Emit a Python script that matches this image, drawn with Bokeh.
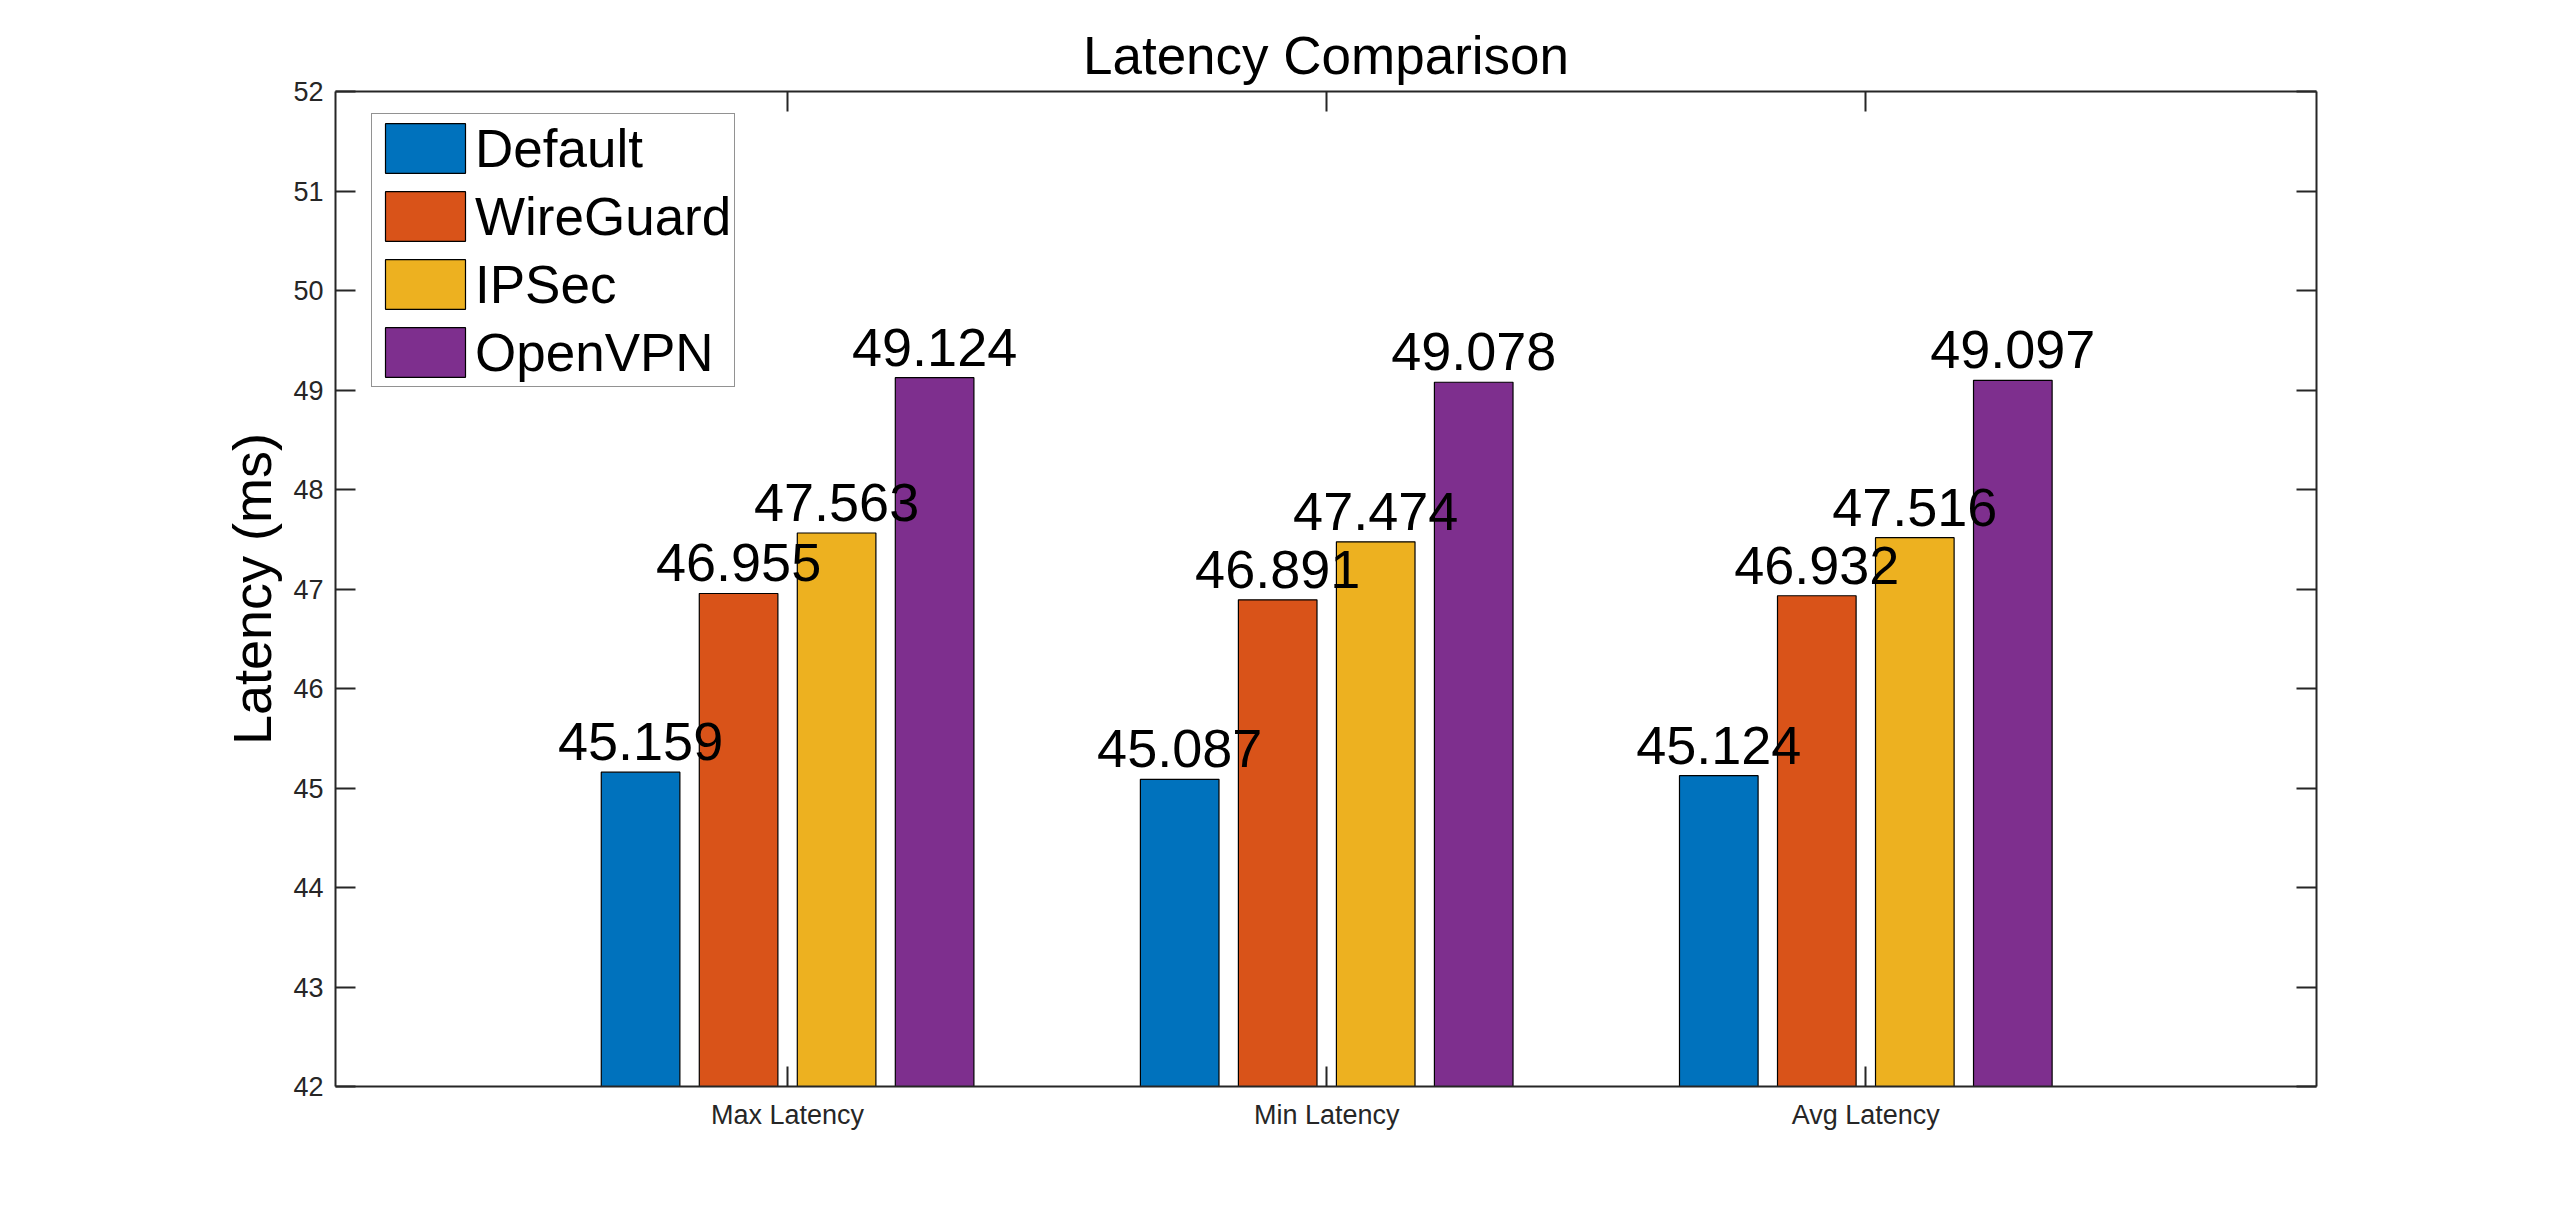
from bokeh.plotting import figure
from bokeh.models import ColumnDataSource, Range1d, LinearAxis, FixedTicker
from bokeh.transform import dodge
from bokeh.core.properties import value
from bokeh.embed import file_html
from bokeh.resources import INLINE

# ---------------- data ----------------
categories = ["Max Latency", "Min Latency", "Avg Latency"]
series_names = ["Default", "WireGuard", "IPSec", "OpenVPN"]
default_vals = [45.159, 45.087, 45.124]
wireguard_vals = [46.955, 46.891, 46.932]
ipsec_vals = [47.563, 47.474, 47.516]
openvpn_vals = [49.124, 49.078, 49.097]
y_ticks = [42, 43, 44, 45, 46, 47, 48, 49, 50, 51, 52]

# ---------------- style ----------------
colors = ["#0072BD", "#D95319", "#EDB120", "#7E2F8E"]
offsets = [-0.2727, -0.0909, 0.0909, 0.2727]
bar_width = 0.1458
FONT = "Liberation Sans"
AX = "#262626"

positions = list(range(1, len(categories) + 1))
series_vals = [default_vals, wireguard_vals, ipsec_vals, openvpn_vals]
cols = ["s0", "s1", "s2", "s3"]

data = dict(x=positions, cat=categories)
for c, vals in zip(cols, series_vals):
    data[c] = vals
    data[c + "_lbl"] = ["%.3f" % v for v in vals]
source = ColumnDataSource(data)

W, H = 2544, 1203
p = figure(width=W, height=H, output_backend="svg", toolbar_location=None,
           x_range=Range1d(0.1614, 3.836), y_range=Range1d(42, 52),
           min_border_left=335, min_border_right=228,
           min_border_top=91, min_border_bottom=117,
           title="Latency Comparison")
p.background_fill_color = "white"
p.border_fill_color = "white"
p.outline_line_color = None
p.xgrid.visible = False
p.ygrid.visible = False

for i, (c, name) in enumerate(zip(cols, series_names)):
    p.vbar(x=dodge("x", offsets[i]), top=c, bottom=0, width=bar_width,
           source=source, fill_color=colors[i], line_color="#000000",
           line_width=1.2, legend_label=name)

for i, c in enumerate(cols):
    p.text(x=dodge("x", offsets[i]), y=c, text=c + "_lbl", source=source,
           text_align="center", text_baseline="bottom", y_offset=-12,
           text_font=value(FONT), text_font_size="54px", text_color="#000000")

# title
p.title.text_font = FONT
p.title.text_font_size = "53px"
p.title.text_font_style = "normal"
p.title.text_color = "#000000"
p.title.align = "center"
p.title.standoff = 13

def style_axis(ax, ticks, labels=True):
    ax.ticker = FixedTicker(ticks=ticks)
    ax.axis_line_color = AX
    ax.axis_line_width = 2
    ax.major_tick_line_color = AX
    ax.major_tick_line_width = 2
    ax.major_tick_in = 20
    ax.major_tick_out = 0
    ax.minor_tick_line_color = None
    ax.major_label_text_font = FONT
    ax.major_label_text_color = AX
    ax.major_label_text_font_size = "27px"
    if not labels:
        ax.major_label_overrides = {t: "" for t in ticks}
        ax.major_label_standoff = 0

# bottom axis
xa = p.xaxis[0]
style_axis(xa, positions)
xa.major_label_overrides = {pos: cat for pos, cat in zip(positions, categories)}
xa.major_label_standoff = 13

# left axis
ya = p.yaxis[0]
style_axis(ya, y_ticks)
ya.major_label_standoff = 12
ya.axis_label = "Latency (ms)"
ya.axis_label_text_font = FONT
ya.axis_label_text_font_size = "54px"
ya.axis_label_text_font_style = "normal"
ya.axis_label_text_color = "#000000"
ya.axis_label_standoff = 8

# mirrored axes (top / right)
top = LinearAxis()
style_axis(top, positions, labels=False)
p.add_layout(top, "above")
right = LinearAxis()
style_axis(right, y_ticks, labels=False)
p.add_layout(right, "right")

# legend
leg = p.legend[0]
leg.location = (36, 699)
leg.glyph_width = 100
leg.glyph_height = 62
leg.padding = 3
leg.spacing = 6
leg.margin = 0
leg.label_standoff = -4
leg.label_text_font = FONT
leg.label_text_font_size = "53px"
leg.label_text_color = "#000000"
leg.border_line_color = AX
leg.border_line_width = 1.5
leg.background_fill_color = "white"
leg.background_fill_alpha = 1.0

open("out.html", "w").write(file_html(p, INLINE))
